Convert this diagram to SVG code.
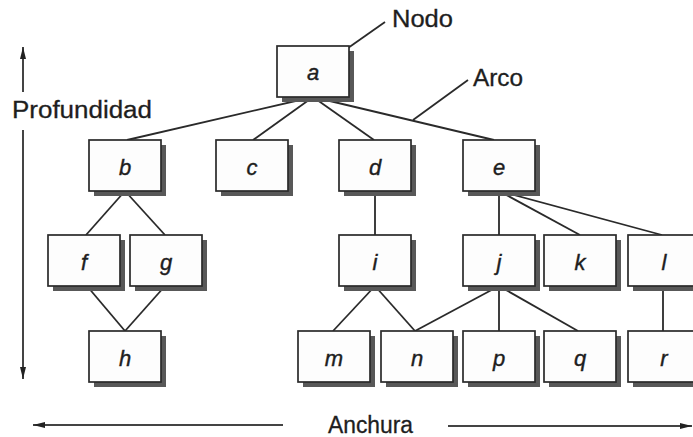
<svg xmlns="http://www.w3.org/2000/svg" width="693" height="437" viewBox="0 0 693 437">
<style>
  .box { fill: #fdfdfd; stroke: #2a2a2a; stroke-width: 1.7; }
  .shadow { fill: #585858; }
  .lbl { font-family: "Liberation Sans", Arial, sans-serif; font-style: italic; font-size: 22px; fill: #1e1e1e; stroke: #1e1e1e; stroke-width: 0.4; text-anchor: middle; }
  .edge { stroke: #2a2a2a; stroke-width: 1.8; fill: none; }
  .txt { font-family: "Liberation Sans", Arial, sans-serif; font-size: 23px; fill: #1e1e1e; stroke: #1e1e1e; stroke-width: 0.3; }
  .axis { stroke: #444; stroke-width: 2; fill: none; }
</style>
<defs>
  <marker id="ah" viewBox="0 0 12 6" refX="12" refY="3" markerWidth="12" markerHeight="6" markerUnits="userSpaceOnUse" orient="auto">
    <path d="M0,0 L12,3 L0,6 Z" fill="#222"/>
  </marker>
  <g id="node">
    <rect class="shadow" x="5" y="5" width="72" height="51"/>
    <rect class="box" x="0" y="0" width="72" height="51"/>
  </g>
</defs>
<rect width="693" height="437" fill="#ffffff"/>

<g id="connectors">
  <line class="edge" x1="313" y1="97" x2="127" y2="140"/>
  <line class="edge" x1="313" y1="97" x2="253" y2="140"/>
  <line class="edge" x1="313" y1="97" x2="374" y2="140"/>
  <line class="edge" x1="313" y1="97" x2="494" y2="140"/>
  <line class="edge" x1="125" y1="191" x2="86" y2="235"/>
  <line class="edge" x1="125" y1="191" x2="165" y2="235"/>
  <line class="edge" x1="87" y1="286" x2="125" y2="331"/>
  <line class="edge" x1="165" y1="286" x2="125" y2="331"/>
  <line class="edge" x1="375" y1="191" x2="375" y2="235"/>
  <line class="edge" x1="499" y1="191" x2="499" y2="235"/>
  <line class="edge" x1="499" y1="191" x2="580" y2="235"/>
  <line class="edge" x1="499" y1="191" x2="662" y2="235"/>
  <line class="edge" x1="375" y1="286" x2="333" y2="331"/>
  <line class="edge" x1="375" y1="286" x2="415" y2="331"/>
  <line class="edge" x1="499" y1="286" x2="415" y2="331"/>
  <line class="edge" x1="499" y1="286" x2="499" y2="331"/>
  <line class="edge" x1="499" y1="286" x2="578" y2="331"/>
  <line class="edge" x1="663" y1="286" x2="663" y2="331"/>
  <line class="edge" x1="385" y1="22" x2="348" y2="48"/>
  <line class="edge" x1="468" y1="80" x2="413" y2="120"/>
</g>

<g id="node-a"><use href="#node" x="277" y="46"/><text class="lbl" x="313" y="80">a</text></g>
<g id="node-b"><use href="#node" x="89" y="140"/><text class="lbl" x="125" y="175">b</text></g>
<g id="node-c"><use href="#node" x="216" y="140"/><text class="lbl" x="252" y="175">c</text></g>
<g id="node-d"><use href="#node" x="339" y="140"/><text class="lbl" x="375" y="175">d</text></g>
<g id="node-e"><use href="#node" x="463" y="140"/><text class="lbl" x="499" y="175">e</text></g>
<g id="node-f"><use href="#node" x="48" y="235"/><text class="lbl" x="84" y="270">f</text></g>
<g id="node-g"><use href="#node" x="130" y="235"/><text class="lbl" x="166" y="270">g</text></g>
<g id="node-i"><use href="#node" x="339" y="235"/><text class="lbl" x="375" y="270">i</text></g>
<g id="node-j"><use href="#node" x="463" y="235"/><text class="lbl" x="499" y="270">j</text></g>
<g id="node-k"><use href="#node" x="544" y="235"/><text class="lbl" x="580" y="270">k</text></g>
<g id="node-l"><use href="#node" x="628" y="235"/><text class="lbl" x="664" y="270">l</text></g>
<g id="node-h"><use href="#node" x="89" y="331"/><text class="lbl" x="125" y="366">h</text></g>
<g id="node-m"><use href="#node" x="298" y="331"/><text class="lbl" x="334" y="366">m</text></g>
<g id="node-n"><use href="#node" x="381" y="331"/><text class="lbl" x="417" y="366">n</text></g>
<g id="node-p"><use href="#node" x="463" y="331"/><text class="lbl" x="499" y="366">p</text></g>
<g id="node-q"><use href="#node" x="544" y="331"/><text class="lbl" x="580" y="366">q</text></g>
<g id="node-r"><use href="#node" x="628" y="331"/><text class="lbl" x="664" y="366">r</text></g>

<g id="labels">
  <text class="txt" x="392" y="27" textLength="61" lengthAdjust="spacingAndGlyphs">Nodo</text>
  <text class="txt" x="473" y="86" textLength="50" lengthAdjust="spacingAndGlyphs">Arco</text>
  <text class="txt" x="12" y="118" textLength="140" lengthAdjust="spacingAndGlyphs">Profundidad</text>
  <text class="txt" x="328" y="433" textLength="85" lengthAdjust="spacingAndGlyphs">Anchura</text>
</g>

<g id="axes">
  <line class="axis" x1="23" y1="92" x2="23" y2="47" marker-end="url(#ah)"/>
  <line class="axis" x1="23" y1="130" x2="23" y2="379" marker-end="url(#ah)"/>
  <line class="axis" x1="283" y1="425" x2="33" y2="425" marker-end="url(#ah)"/>
  <line class="axis" x1="448" y1="426" x2="692" y2="426" marker-end="url(#ah)"/>
</g>
</svg>
